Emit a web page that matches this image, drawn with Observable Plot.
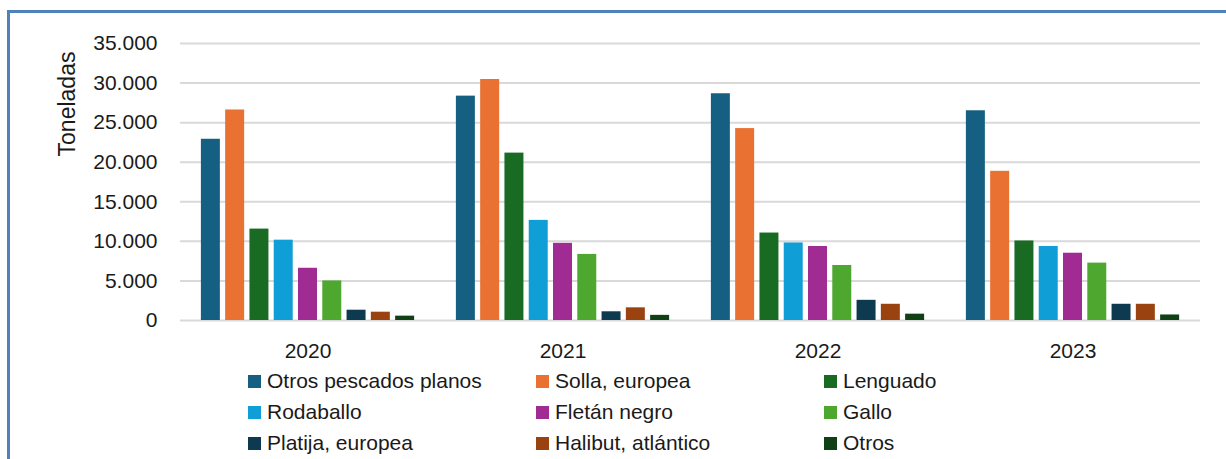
<!DOCTYPE html>
<html><head><meta charset="utf-8">
<script src="https://cdn.jsdelivr.net/npm/d3@7"></script>
<script src="https://cdn.jsdelivr.net/npm/@observablehq/plot@0.6"></script>
<style>
body{margin:0;background:#fff;}
#wrap{position:relative;width:1226px;height:459px;overflow:hidden;font-family:"Liberation Sans",Arial,sans-serif;color:#1a1a1a;}
#frame{position:absolute;left:7px;top:10px;width:1300px;height:500px;border-left:3px solid #4f81bd;border-top:3px solid #4f81bd;}
#chart{position:absolute;left:0;top:0;}
#ylabel{position:absolute;left:67px;top:104px;transform:translate(-50%,-50%) rotate(-90deg);font-size:23px;white-space:nowrap;}
#legend{position:absolute;left:248px;top:365px;display:grid;grid-template-columns:288px 288px 288px;grid-auto-rows:31px;font-size:21px;line-height:31px;}
.item{white-space:nowrap;}
.sw{display:inline-block;width:13px;height:13px;margin-right:6px;vertical-align:baseline;}
</style>
</head><body>
<div id="wrap">
  <div id="frame"></div>
  <div id="chart"></div>
  <div id="ylabel">Toneladas</div>
  <div id="legend"></div>
</div>
<script>
const years = ["2020", "2021", "2022", "2023"];
const species = ["Otros pescados planos", "Solla, europea", "Lenguado", "Rodaballo", "Fletán negro", "Gallo", "Platija, europea", "Halibut, atlántico", "Otros"];
const colors = ["#156082", "#E97132", "#196B24", "#0F9ED5", "#A02B93", "#4EA72E", "#0D3A4E", "#9A4310", "#0F4016"];
const v2020 = [22900, 26600, 11550, 10150, 6600, 5000, 1300, 1050, 550];
const v2021 = [28350, 30450, 21150, 12650, 9750, 8350, 1100, 1600, 650];
const v2022 = [28650, 24250, 11050, 9800, 9350, 6950, 2550, 2050, 800];
const v2023 = [26500, 18850, 10050, 9350, 8500, 7250, 2050, 2050, 700];
const yTicks = [0, 5000, 10000, 15000, 20000, 25000, 30000, 35000];

const values = [v2020, v2021, v2022, v2023];
const rows = years.flatMap((yr, i) => species.map((s, j) => ({year: yr, species: s, value: values[i][j]})));
const fmt = d3.formatLocale({decimal: ",", thousands: ".", grouping: [3], currency: ["", "€"]}).format(",");

const chart = Plot.plot({
  width: 1226,
  height: 365,
  marginLeft: 179,
  marginRight: 26,
  marginTop: 43,
  marginBottom: 45,
  style: {fontFamily: "Liberation Sans, Arial, sans-serif", fontSize: "21px", color: "#1a1a1a", background: "transparent"},
  facet: {data: rows, x: "year"},
  fx: {domain: years, padding: 0, axis: "bottom", tickSize: 0, tickPadding: 23, label: null},
  x: {domain: species, paddingInner: 0.218, paddingOuter: 0.86, axis: null, round: false},
  y: {domain: [0, 35000], ticks: yTicks, tickFormat: fmt, tickSize: 0, tickPadding: 23, label: null},
  color: {domain: species, range: colors},
  marks: [
    Plot.ruleY(yTicks, {stroke: "#d9d9d9", strokeWidth: 2}),
    Plot.barY(rows, {x: "species", y: "value", fill: "species"})
  ]
});
document.getElementById("chart").appendChild(chart);

const legend = document.getElementById("legend");
species.forEach((s, i) => {
  const item = document.createElement("div");
  item.className = "item";
  const sw = document.createElement("span");
  sw.className = "sw";
  sw.style.background = colors[i];
  item.appendChild(sw);
  item.appendChild(document.createTextNode(s));
  legend.appendChild(item);
});
</script>
</body></html>
